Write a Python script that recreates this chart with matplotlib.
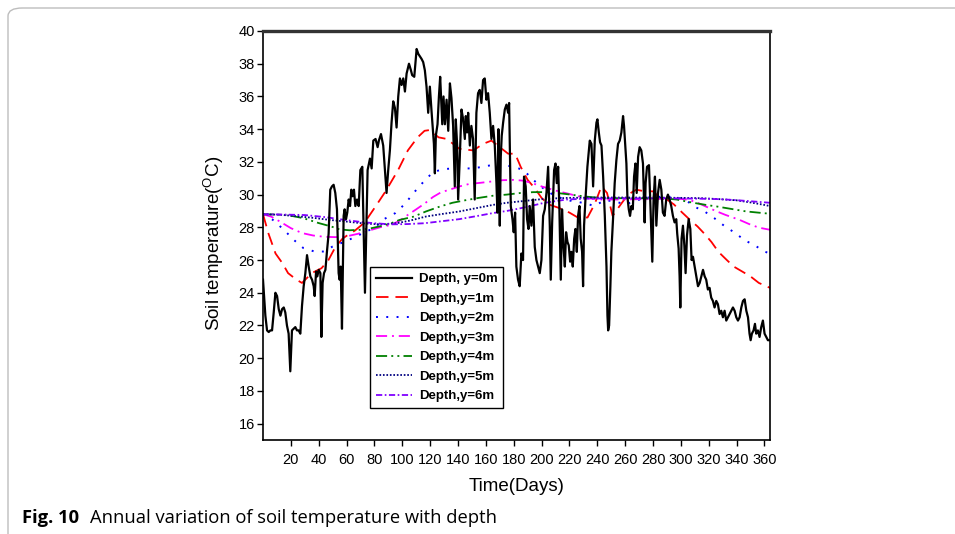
import matplotlib
matplotlib.use("Agg")
import matplotlib.pyplot as plt
from matplotlib.patches import FancyBboxPatch

plt.rcParams["font.family"] = ["Liberation Sans", "DejaVu Sans"]
plt.rcParams["mathtext.default"] = "regular"
plt.rcParams["lines.scale_dashes"] = False

# surface temperature (y = 0 m), daily readings
surface_days = [
    0.0, 1.7, 2.9, 4.1, 5.3, 6.5, 7.7, 8.9, 10.1, 11.3, 12.5, 13.7, 14.9, 16.0, 17.2, 18.4,
    19.6, 20.8, 22.0, 23.2, 24.4, 25.6, 26.8, 28.0, 29.2, 30.4, 31.6, 32.8, 34.0, 35.2, 36.4,
    37.1, 38.1, 39.0, 40.0, 41.2, 41.9, 42.8, 43.8, 44.8, 46.0, 47.1, 48.3, 49.5, 50.7, 51.9,
    53.1, 54.3, 55.0, 55.8, 56.7, 57.9, 58.6, 59.6, 60.5, 61.5, 62.5, 63.4, 64.4, 65.3, 66.3,
    67.5, 68.7, 69.9, 71.3, 73.2, 75.1, 76.8, 78.0, 79.2, 80.8, 82.3, 83.2, 84.7, 86.3, 88.7,
    89.9, 91.1, 92.3, 93.5, 94.7, 95.9, 97.1, 98.3, 99.5, 100.7, 101.9, 103.1, 104.8, 106.2,
    107.1, 108.6, 110.3, 111.5, 113.8, 115.0, 116.2, 117.4, 118.6, 119.8, 121.0, 122.7, 123.4,
    124.1, 125.3, 126.3, 127.2, 128.7, 129.6, 130.6, 131.8, 133.0, 134.2, 135.3, 136.5, 137.7,
    138.4, 139.4, 140.1, 141.3, 142.5, 143.7, 144.9, 145.6, 146.5, 147.3, 148.5, 149.6, 150.8,
    152.0, 153.2, 154.4, 155.6, 156.8, 158.0, 159.2, 160.4, 161.6, 162.8, 164.0, 165.2, 166.4,
    167.6, 168.3, 169.0, 170.0, 170.7, 171.4, 172.4, 173.6, 174.8, 176.0, 176.7, 177.9, 179.1,
    180.0, 181.0, 181.9, 183.1, 184.3, 185.5, 186.7, 187.4, 188.6, 189.6, 190.6, 191.5, 192.7,
    193.9, 195.1, 196.3, 197.5, 198.7, 199.9, 201.1, 202.3, 203.5, 204.7, 205.9, 206.6, 207.6,
    209.0, 210.0, 210.9, 211.9, 212.8, 213.8, 214.7, 215.7, 216.7, 217.6, 218.6, 219.5, 220.5,
    221.4, 222.4, 223.4, 224.3, 225.3, 226.2, 227.2, 228.1, 229.1, 229.8, 230.5, 231.5, 232.9,
    234.6, 235.8, 237.0, 238.2, 239.4, 240.1, 241.1, 242.0, 243.0, 244.2, 245.4, 246.6, 247.3,
    247.8, 248.5, 249.4, 250.1, 251.3, 252.5, 253.7, 254.9, 256.1, 257.3, 258.5, 259.2, 260.2,
    260.9, 261.6, 262.6, 263.5, 264.5, 265.5, 266.4, 267.4, 268.3, 269.3, 270.4, 271.6, 272.8,
    274.0, 274.7, 275.7, 277.1, 278.0, 279.5, 280.4, 281.4, 282.4, 283.6, 284.8, 286.0, 287.1,
    288.3, 289.5, 290.7, 291.9, 293.1, 294.3, 295.5, 296.7, 297.4, 298.4, 299.1, 299.6, 300.5,
    301.5, 302.5, 303.4, 304.4, 305.6, 306.8, 307.7, 308.7, 309.9, 311.1, 312.3, 313.5, 314.7,
    315.9, 317.1, 318.2, 319.4, 320.6, 321.8, 323.0, 324.2, 325.4, 326.6, 327.8, 329.0, 330.2,
    331.4, 332.6, 333.8, 335.0, 336.2, 337.4, 338.6, 339.8, 341.0, 342.2, 343.4, 344.6, 345.8,
    347.0, 348.2, 349.3, 350.1, 351.0, 352.2, 353.2, 354.1, 355.3, 356.5, 357.7, 358.9, 360.1,
    361.3, 362.5, 363.7,
]
surface_temp = [
    24.8, 22.6, 21.7, 21.6, 21.7, 21.7, 22.8, 24.0, 23.8, 23.0, 22.6, 23.0, 23.1, 22.8, 22.0, 21.5,
    19.2, 21.7, 21.8, 21.9, 21.7, 21.7, 21.5, 23.2, 24.4, 25.2, 26.3, 25.6, 25.0, 24.8, 24.4,
    23.8, 25.3, 25.0, 25.4, 25.2, 21.3, 24.6, 25.2, 25.4, 26.6, 27.6, 30.3, 30.5, 30.6, 30.1,
    29.1, 25.2, 24.8, 25.6, 21.8, 28.7, 29.1, 28.5, 28.9, 29.7, 29.3, 30.3, 29.9, 30.3, 29.3,
    29.7, 29.3, 31.5, 31.7, 24.0, 31.5, 32.2, 31.6, 33.3, 33.4, 32.9, 33.3, 33.7, 33.0, 30.1,
    31.5, 32.7, 34.4, 35.7, 35.3, 34.1, 36.0, 37.1, 36.7, 37.1, 36.3, 37.4, 38.0, 37.6,
    37.3, 37.2, 38.9, 38.6, 38.3, 38.1, 37.6, 36.6, 35.0, 36.6, 35.1, 33.1, 31.3,
    33.6, 34.3, 36.0, 37.2, 34.3, 36.0, 34.3, 35.8, 33.9, 36.8, 35.9, 34.2, 30.5,
    34.6, 33.0, 29.7, 32.3, 35.2, 34.6, 33.4, 34.8, 33.8, 35.0, 33.0, 34.2, 33.4,
    29.7, 35.0, 36.2, 36.4, 35.6, 37.0, 37.1, 35.8, 36.2, 35.0, 33.4, 34.2, 33.0,
    30.7, 28.9, 34.0, 28.1, 32.3, 33.6, 34.4, 35.2, 35.5, 35.0, 35.6, 29.3, 28.5,
    27.7, 28.9, 25.6, 24.8, 24.4, 26.4, 26.0, 31.1, 30.5, 28.5, 27.9, 29.3, 28.1,
    29.7, 26.8, 26.0, 25.6, 25.2, 26.0, 28.7, 29.1, 30.1, 31.7, 28.1, 24.8, 28.3,
    31.5, 31.9, 30.7, 31.7, 29.1, 24.8, 29.1, 26.9, 25.6, 27.7, 27.1, 26.9, 25.9,
    26.5, 25.6, 27.3, 27.9, 26.5, 28.7, 29.3, 27.3, 26.5, 24.4, 28.1, 29.7, 31.7,
    33.3, 33.1, 30.5, 33.3, 34.4, 34.6, 33.8, 33.2, 33.0, 31.1, 28.7, 25.6, 22.6,
    21.7, 22.0, 24.4, 26.5, 28.5, 30.7, 32.1, 33.1, 33.3, 33.8, 34.8, 34.2, 32.9,
    31.9, 29.9, 29.1, 28.7, 29.3, 29.1, 31.1, 31.9, 30.1, 32.3, 32.9, 32.7, 31.9,
    28.3, 30.7, 31.7, 31.8, 29.7, 25.9, 29.7, 31.1, 28.1, 30.1, 30.9, 30.3, 28.9,
    28.7, 29.7, 30.0, 29.7, 29.3, 28.7, 28.3, 28.5, 27.6, 26.7, 25.0, 23.1, 27.3,
    28.1, 26.9, 25.2, 27.5, 28.5, 27.9, 26.0, 26.2, 25.6, 25.0, 24.4, 24.6, 25.0,
    25.4, 25.0, 24.8, 24.2, 24.3, 23.7, 23.5, 23.1, 23.5, 23.3, 22.7, 22.9, 22.5,
    22.9, 22.3, 22.5, 22.7, 22.9, 23.1, 22.9, 22.5, 22.3, 22.5, 23.1, 23.5, 23.6,
    22.9, 22.5, 21.5, 21.1, 21.5, 21.7, 22.1, 21.5, 21.7, 21.3, 21.9, 22.3, 21.5,
    21.3, 21.1, 21.1,
]

# y = 1 m
d1_days = [0, 4, 9, 14, 18, 24, 28, 35, 42, 47, 52, 57, 62, 66, 73, 81, 88, 97, 104, 111,
           116, 120, 126, 132, 141, 151, 158, 164, 170, 176, 181, 185, 190, 195, 200, 205,
           212, 220, 226, 233, 238, 243, 247, 251, 256, 262, 268, 274, 280, 285, 290, 295,
           301, 306, 312, 317, 322, 327, 333, 338, 344, 350, 356, 364]
d1_temp = [28.8, 27.6, 26.4, 25.8, 25.2, 24.8, 24.6, 25.2, 25.5, 26.0, 26.8, 27.3, 27.6, 27.8,
           28.3, 29.3, 30.2, 31.5, 32.7, 33.5, 33.9, 33.95, 33.5, 33.4, 32.8, 32.7, 33.1, 33.3,
           32.9, 32.5, 32.5, 31.7, 30.9, 30.4, 29.8, 29.4, 29.2, 28.9, 28.6, 28.6, 29.4, 30.5,
           30.1, 28.7, 29.3, 30.0, 30.3, 30.2, 30.2, 29.8, 29.7, 29.4, 28.9, 28.5, 28.05, 27.6,
           27.1, 26.5, 26.0, 25.6, 25.3, 25.0, 24.6, 24.3]

# y = 2 m
d2_days = [0, 7, 15, 22, 29, 37, 44, 50, 58, 67, 74, 80, 86, 95, 102, 108, 115, 122, 129,
           136, 143, 150, 158, 165, 172, 180, 187, 194, 201, 208, 215, 222, 231, 238, 245,
           252, 260, 267, 274, 281, 288, 295, 303, 310, 317, 324, 331, 339, 346, 353, 360, 364]
d2_temp = [28.8, 28.46, 27.85, 27.24, 26.73, 26.52, 26.52, 26.83, 27.1, 27.44, 27.75, 27.95,
           28.46, 28.87, 29.44, 30.09, 30.76, 31.37, 31.55, 31.6, 31.6, 31.6, 31.7, 31.82,
           31.82, 31.7, 31.5, 30.9, 30.4, 30.0, 29.75, 29.6, 29.48, 29.3, 29.65, 29.6, 29.4,
           29.6, 29.8, 29.85, 29.88, 29.85, 29.7, 29.25, 28.97, 28.56, 28.1, 27.65, 27.2,
           26.9, 26.52, 26.4]

# y = 3 m
d3_days = [0, 6, 12, 20, 28, 36, 44, 52, 60, 68, 76, 84, 92, 98, 104, 110, 116, 122, 128,
           134, 141, 148, 156, 164, 172, 180, 187, 194, 200, 206, 212, 218, 224, 230, 236,
           242, 250, 260, 270, 280, 290, 298, 306, 312, 318, 325, 332, 342, 349, 356, 364]
d3_temp = [28.8, 28.65, 28.36, 27.95, 27.65, 27.5, 27.42, 27.4, 27.45, 27.6, 27.8, 28.0,
           28.15, 28.4, 28.76, 29.1, 29.45, 29.85, 30.15, 30.3, 30.5, 30.65, 30.72, 30.8,
           30.88, 30.9, 30.85, 30.68, 30.5, 30.35, 30.2, 30.08, 29.95, 29.82, 29.75, 29.7,
           29.7, 29.7, 29.72, 29.72, 29.75, 29.75, 29.68, 29.5, 29.27, 29.0, 28.76, 28.46,
           28.2, 27.98, 27.85]

# y = 4 m
d4_days = [0, 10, 18, 29, 40, 49, 55, 62, 70, 78, 86, 92, 98, 108, 117, 127, 136, 145, 155,
           165, 175, 185, 194, 203, 211, 219, 227, 235, 242, 254, 266, 278, 290, 297, 304,
           311, 318, 326, 333, 340, 347, 353, 359, 364]
d4_temp = [28.8, 28.78, 28.74, 28.56, 28.26, 28.05, 27.87, 27.82, 27.85, 27.95, 28.1, 28.25,
           28.45, 28.65, 28.97, 29.27, 29.5, 29.65, 29.8, 29.93, 30.0, 30.1, 30.15, 30.15,
           30.1, 30.02, 29.93, 29.85, 29.8, 29.78, 29.78, 29.77, 29.75, 29.7, 29.58, 29.47,
           29.37, 29.27, 29.17, 29.07, 28.97, 28.92, 28.87, 28.83]

# y = 5 m
d5_days = [0, 12, 24, 36, 48, 60, 72, 84, 96, 106, 117, 129, 141, 153, 165, 175, 184, 192,
           200, 210, 220, 240, 260, 280, 300, 315, 328, 340, 350, 358, 364]
d5_temp = [28.8, 28.77, 28.68, 28.58, 28.45, 28.35, 28.24, 28.18, 28.25, 28.42, 28.66,
           28.82, 28.97, 29.17, 29.37, 29.5, 29.58, 29.65, 29.72, 29.77, 29.8, 29.82, 29.82,
           29.82, 29.8, 29.78, 29.72, 29.65, 29.52, 29.4, 29.3]

# y = 6 m
d6_days = [0, 15, 30, 45, 58, 70, 80, 92, 104, 116, 128, 141, 153, 165, 175, 184, 192, 201,
           210, 218, 232, 250, 270, 290, 314, 328, 340, 352, 364]
d6_temp = [28.8, 28.78, 28.75, 28.62, 28.46, 28.33, 28.25, 28.18, 28.2, 28.25, 28.37, 28.5,
           28.68, 28.87, 29.0, 29.15, 29.3, 29.48, 29.6, 29.7, 29.75, 29.77, 29.77, 29.77,
           29.75, 29.72, 29.66, 29.58, 29.5]

x_ticks = list(range(20, 361, 20))
y_ticks = list(range(16, 41, 2))

fig = plt.figure(figsize=(9.55, 5.34), dpi=100)

# rounded card outline around the figure and caption
card = FancyBboxPatch((8 / 955, -0.2), 1.2, 1.2 - 8 / 534,
                      boxstyle="round,pad=0,rounding_size=0.015",
                      transform=fig.transFigure, facecolor="none",
                      edgecolor="#bdbdbd", linewidth=1.0, zorder=-1)
fig.patches.append(card)

ax = fig.add_axes([263 / 955, 1 - 440 / 534, (770 - 263) / 955, (440 - 31) / 534])

ax.plot(surface_days, surface_temp, color="black", lw=1.6, label="Depth, y=0m", zorder=3)
ax.plot(d1_days, d1_temp, color="#ff0000", lw=1.3, dashes=(9, 5), label="Depth,y=1m")
ax.plot(d2_days, d2_temp, color="#0000ff", lw=1.4, dashes=(1.4, 6), label="Depth,y=2m")
ax.plot(d3_days, d3_temp, color="#ff00ff", lw=1.3, dashes=(8, 3.5, 1.4, 3.5),
        label="Depth,y=3m")
ax.plot(d4_days, d4_temp, color="#008000", lw=1.3, dashes=(8, 3, 1.4, 3, 1.4, 3),
        label="Depth,y=4m")
ax.plot(d5_days, d5_temp, color="#000080", lw=1.3, dashes=(1.2, 1.3), label="Depth,y=5m")
ax.plot(d6_days, d6_temp, color="#8000ff", lw=1.3, dashes=(4.5, 1.8, 1.2, 1.8),
        label="Depth,y=6m")

ax.set_xlim(0, 364)
ax.set_ylim(15, 40)
ax.set_xticks(x_ticks)
ax.set_yticks(y_ticks)
ax.tick_params(direction="out", length=4, width=1, labelsize=10.5, pad=2)
ax.tick_params(axis="x", pad=5)

for side in ["left", "bottom", "right"]:
    ax.spines[side].set_linewidth(1.2)
ax.spines["top"].set_linewidth(2.4)
ax.spines["top"].set_color("#333333")

ax.set_xlabel("Time(Days)", fontsize=13.5, labelpad=8)
ax.set_ylabel(r"Soil temperature($^{O}$C)", fontsize=13.5)
ax.yaxis.set_label_coords(-0.073, 0.48)

leg = ax.legend(loc="lower left", bbox_to_anchor=(0.211, 0.078), fancybox=False,
                edgecolor="black", framealpha=1, handlelength=2.7, handletextpad=0.55,
                labelspacing=0.55, borderpad=0.45, borderaxespad=0,
                prop={"weight": "bold", "size": 9.5})
leg.get_frame().set_linewidth(1.0)

fig.text(22 / 955, 1 - 518 / 534, "Fig. 10", fontfamily="Open Sans", fontweight="bold",
         fontsize=13.2, va="center", ha="left")
fig.text(90 / 955, 1 - 518 / 534, "Annual variation of soil temperature with depth",
         fontfamily="Open Sans", fontsize=13.2, va="center", ha="left")

fig.savefig("out.png", dpi=100)
